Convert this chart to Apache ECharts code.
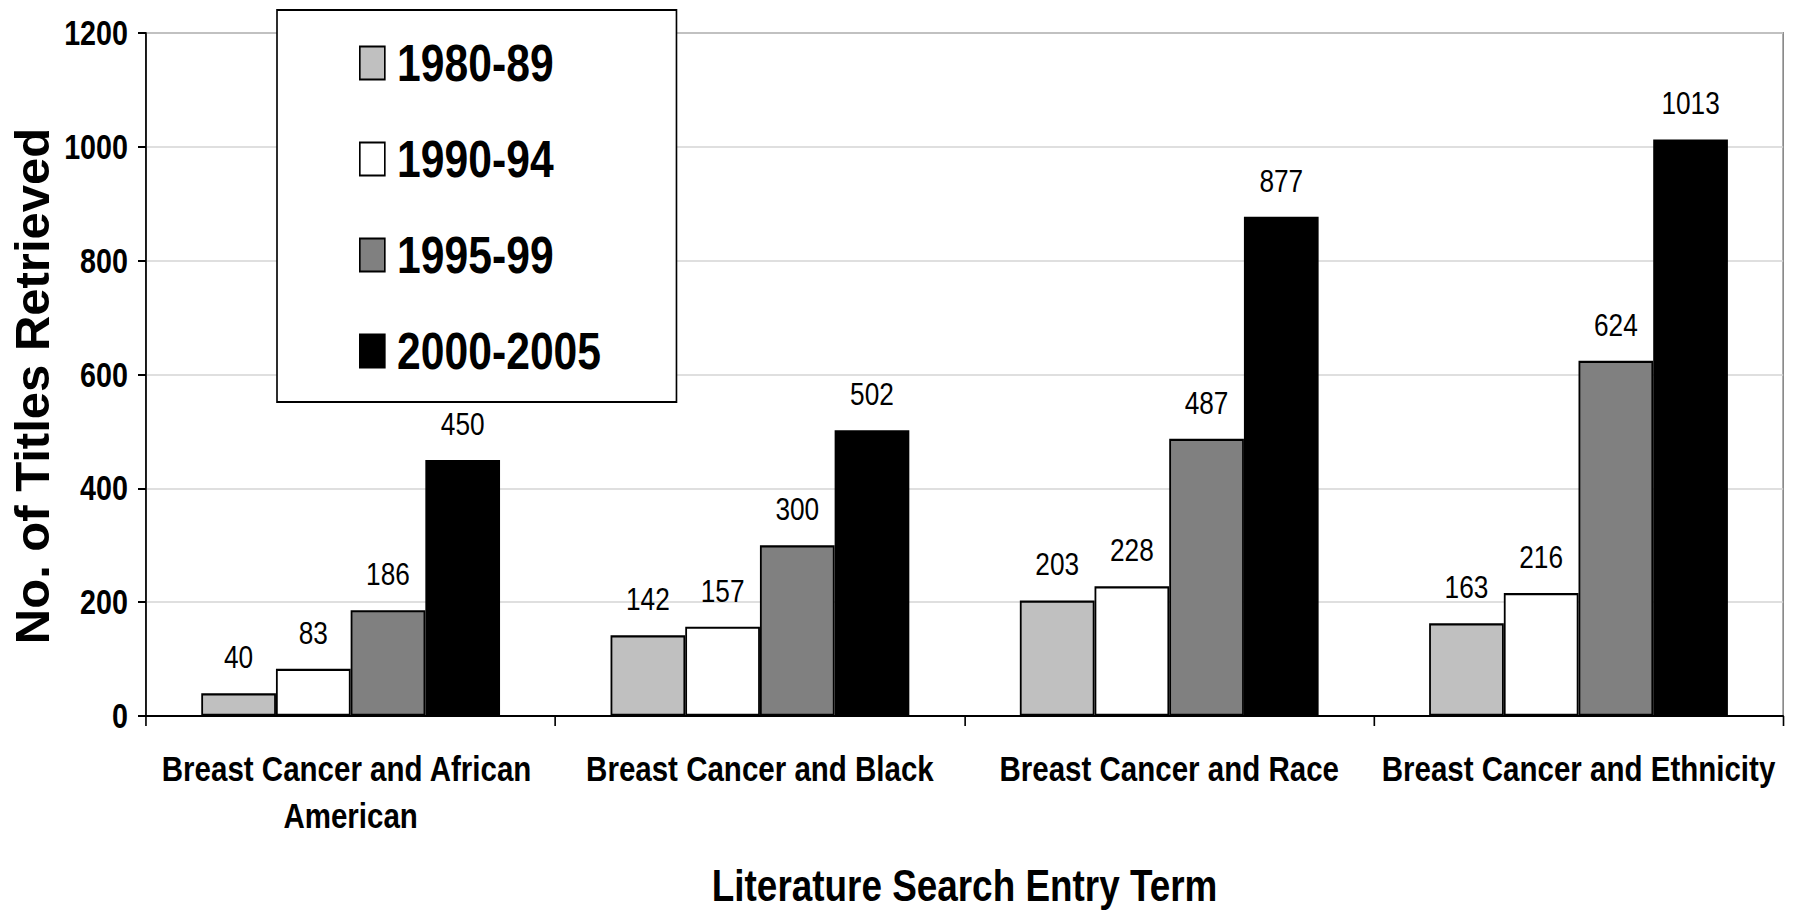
<!DOCTYPE html>
<html>
<head>
<meta charset="utf-8">
<script src="https://cdn.jsdelivr.net/npm/echarts@6/dist/echarts.min.js"></script>
<style>
html,body{margin:0;padding:0;background:#fff;overflow:hidden;width:1794px;height:913px;}
#chart{width:2188px;height:913px;transform:scaleX(0.82);transform-origin:0 0;}
</style>
</head>
<body>
<div id="chart"></div>
<script>
const categories = ['Breast Cancer and African American', 'Breast Cancer and Black', 'Breast Cancer and Race', 'Breast Cancer and Ethnicity'];
const seriesNames = ['1980-89', '1990-94', '1995-99', '2000-2005'];
const values1980 = [40, 142, 203, 163];
const values1990 = [83, 157, 228, 216];
const values1995 = [186, 300, 487, 624];
const values2000 = [450, 502, 877, 1013];
const yTicks = [0, 200, 400, 600, 800, 1000, 1200];

// The page is drawn 1/0.82 wider and squeezed horizontally, so that the
// installed sans fonts take the narrow look of the reference's condensed type.
const SX = 0.82;
const FONT = "'Liberation Sans', Arial, sans-serif";
const colors = ['#C0C0C0', '#FFFFFF', '#808080', '#000000'];
const allValues = [values1980, values1990, values1995, values2000];

const chart = echarts.init(document.getElementById('chart'), null, {renderer: 'svg'});
const series = seriesNames.map((name, i) => ({
  name: name,
  type: 'bar',
  data: allValues[i],
  barGap: '0%',
  barCategoryGap: '27%',
  itemStyle: {color: colors[i], borderColor: '#000', borderWidth: 2.2},
  label: {
    show: true, position: 'top', distance: 20,
    fontFamily: FONT, fontSize: 32, color: '#000'
  }
}));

chart.setOption({
  animation: false,
  backgroundColor: '#fff',
  grid: {
    left: 146 / SX, right: 11 / SX, top: 33, bottom: 197,
    outerBoundsMode: 'none',
    show: true, borderColor: '#888888', borderWidth: 2, backgroundColor: 'transparent'
  },
  legend: {
    orient: 'vertical',
    left: 277 / SX, top: 10,
    padding: [27, 92, 25, 100],
    itemGap: 44,
    itemWidth: 25 / SX, itemHeight: 33,
    backgroundColor: '#fff',
    borderColor: '#000', borderWidth: 2,
    icon: 'rect',
    textStyle: {fontFamily: FONT, fontWeight: 'bold', fontSize: 52, color: '#000', lineHeight: 52, padding: [0, 0, 0, 10]},
    data: seriesNames
  },
  graphic: [{
    type: 'text',
    x: 32 / SX, y: 386,
    rotation: Math.PI / 2,
    scaleY: 1 / SX,
    style: {
      text: 'No. of Titles Retrieved',
      font: "bold 49px 'Liberation Sans', Arial, sans-serif",
      fill: '#000', align: 'center', verticalAlign: 'middle'
    }
  }],
  xAxis: {
    type: 'category',
    data: categories,
    name: 'Literature Search Entry Term',
    nameLocation: 'middle',
    nameGap: 147,
    nameTextStyle: {fontFamily: FONT, fontWeight: 'bold', fontSize: 45, lineHeight: 45, color: '#000'},
    axisLine: {lineStyle: {color: '#000', width: 2}},
    axisTick: {show: true, length: 10, lineStyle: {color: '#000', width: 2}},
    axisLabel: {
      interval: 0, margin: 29, fontFamily: FONT, fontWeight: 'bold', fontSize: 36, color: '#000',
      lineHeight: 47, width: 495, overflow: 'break'
    },
    splitLine: {show: false}
  },
  yAxis: {
    type: 'value',
    min: yTicks[0], max: yTicks[yTicks.length - 1], interval: 200,
    axisLine: {show: true, lineStyle: {color: '#000', width: 2}},
    axisTick: {show: true, length: 8 / SX, lineStyle: {color: '#000', width: 2}},
    axisLabel: {margin: 18 / SX, fontFamily: FONT, fontWeight: 'bold', fontSize: 35, color: '#000', formatter: v => String(v)},
    splitLine: {show: true, lineStyle: {color: '#D4D4D4', width: 1.5}}
  },
  series: series
});
</script>
</body>
</html>
